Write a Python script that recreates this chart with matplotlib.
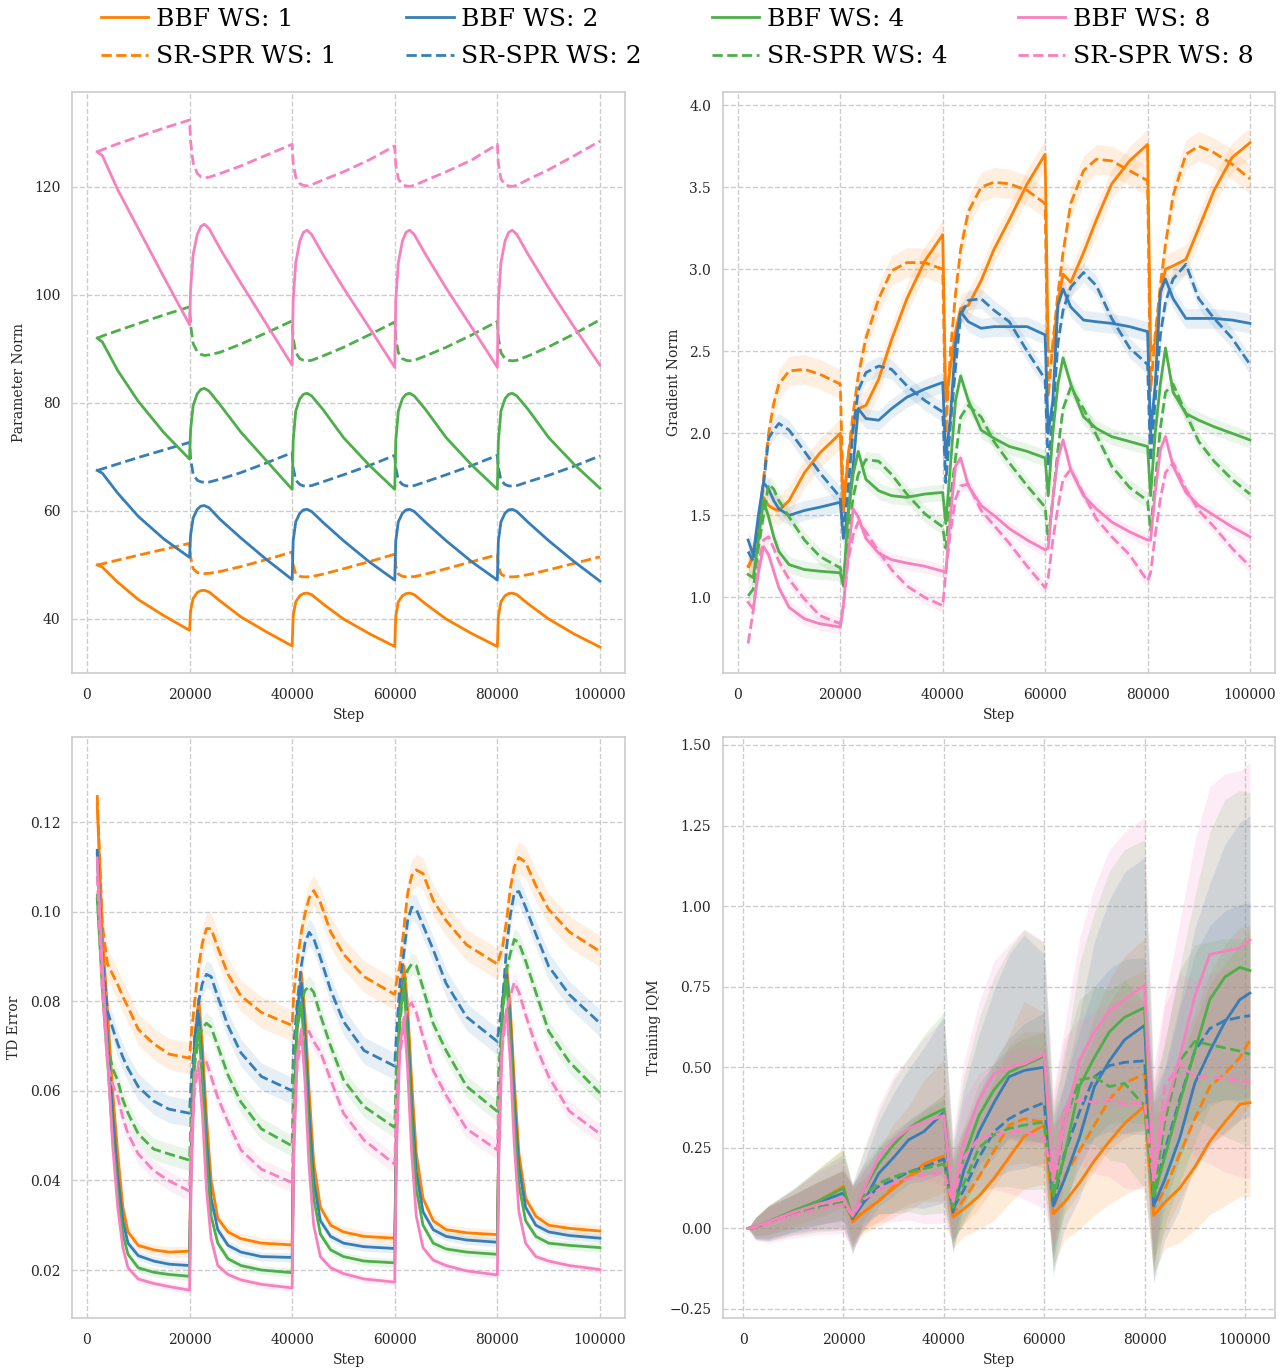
import matplotlib
matplotlib.use("Agg")
import numpy as np
import matplotlib.pyplot as plt

plt.rcParams['font.family'] = 'DejaVu Serif'
plt.rcParams['axes.edgecolor'] = '#cccccc'
plt.rcParams['axes.linewidth'] = 1.2
plt.rcParams['xtick.major.size'] = 0
plt.rcParams['ytick.major.size'] = 0
plt.rcParams['xtick.major.pad'] = 10.5
plt.rcParams['ytick.major.pad'] = 8.5
plt.rcParams['xtick.color'] = '#262626'
plt.rcParams['ytick.color'] = '#262626'
plt.rcParams['axes.labelcolor'] = '#262626'

ws_sizes = [1, 2, 4, 8]
colors = ['#ff7f00', '#377eb8', '#4daf4a', '#f781bf']

# ---------------- Parameter Norm ----------------
pn_steps = [2000, 3000, 6000, 10000, 15000, 20000,
            20200, 20700, 21500, 22200, 22900, 23800, 26000, 30000, 35000, 40000,
            40200, 40700, 41500, 42200, 42900, 43800, 46000, 50000, 55000, 60000,
            60200, 60700, 61500, 62200, 62900, 63800, 66000, 70000, 75000, 80000,
            80200, 80700, 81500, 82200, 82900, 83800, 86000, 90000, 95000, 100000]
pn_bbf1 = [50.0, 49.6, 46.8, 43.6, 40.6, 37.9,
           41.5, 43.8, 44.9, 45.25, 45.3, 45.0, 43.3, 40.4, 37.6, 35.0,
           40.5, 43.2, 44.3, 44.7, 44.8, 44.5, 42.8, 40.0, 37.3, 34.9,
           40.5, 43.2, 44.3, 44.7, 44.8, 44.5, 42.8, 40.0, 37.3, 34.9,
           40.5, 43.2, 44.3, 44.7, 44.8, 44.5, 42.8, 40.0, 37.2, 34.8]
pn_spr1 = [50.0, 50.2, 50.9, 51.8, 52.9, 54.0,
           51.5, 49.3, 48.6, 48.45, 48.4, 48.45, 48.8, 49.7, 51.0, 52.4,
           50.0, 48.3, 47.9, 47.8, 47.8, 47.85, 48.3, 49.3, 50.6, 52.0,
           49.8, 48.3, 47.9, 47.8, 47.8, 47.85, 48.3, 49.3, 50.6, 51.9,
           49.8, 48.3, 47.9, 47.8, 47.8, 47.85, 48.2, 49.1, 50.3, 51.5]
pn_bbf2 = [67.5, 67.0, 63.3, 59.0, 54.8, 51.4,
           55.5, 58.7, 60.3, 60.9, 61.0, 60.6, 58.4, 55.0, 51.0, 47.3,
           54.5, 58.0, 59.6, 60.2, 60.3, 59.9, 57.9, 54.5, 50.6, 47.2,
           54.5, 58.0, 59.6, 60.2, 60.3, 59.9, 57.9, 54.5, 50.6, 47.2,
           54.5, 58.0, 59.6, 60.2, 60.3, 59.9, 57.9, 54.5, 50.6, 47.0]
pn_spr2 = [67.5, 67.8, 68.7, 69.9, 71.3, 72.7,
           69.7, 66.8, 65.7, 65.4, 65.3, 65.35, 65.9, 67.1, 68.9, 70.8,
           68.0, 65.7, 64.9, 64.65, 64.6, 64.7, 65.4, 66.7, 68.4, 70.3,
           68.0, 65.7, 64.9, 64.65, 64.6, 64.7, 65.4, 66.7, 68.4, 70.3,
           68.0, 65.7, 64.9, 64.65, 64.6, 64.7, 65.4, 66.6, 68.3, 70.2]
pn_bbf4 = [92.0, 91.3, 86.0, 80.3, 74.5, 69.6,
           75.0, 79.5, 81.7, 82.5, 82.7, 82.2, 79.6, 74.6, 69.3, 64.0,
           73.0, 78.5, 80.8, 81.6, 81.8, 81.3, 78.8, 73.6, 68.5, 64.0,
           73.0, 78.5, 80.8, 81.6, 81.8, 81.3, 78.8, 73.6, 68.5, 64.0,
           73.0, 78.5, 80.8, 81.6, 81.8, 81.3, 78.8, 73.6, 68.6, 64.2]
pn_spr4 = [92.0, 92.4, 93.4, 94.7, 96.3, 97.8,
           94.5, 91.0, 89.5, 89.0, 88.8, 88.9, 89.4, 90.9, 93.0, 95.2,
           92.0, 89.3, 88.2, 87.9, 87.8, 87.9, 88.7, 90.3, 92.6, 95.0,
           92.0, 89.3, 88.2, 87.9, 87.8, 87.9, 88.7, 90.3, 92.6, 95.1,
           92.0, 89.3, 88.2, 87.9, 87.8, 87.9, 88.7, 90.4, 92.8, 95.4]
pn_bbf8 = [126.5, 125.8, 119.5, 112.3, 103.3, 94.5,
           101.0, 107.5, 111.2, 112.7, 113.1, 112.3, 108.5, 102.2, 94.6, 87.0,
           99.0, 106.0, 110.0, 111.6, 112.0, 111.2, 107.5, 101.3, 94.0, 86.6,
           99.0, 106.0, 110.0, 111.6, 112.0, 111.2, 107.5, 101.3, 94.0, 86.6,
           99.0, 106.0, 110.0, 111.6, 112.0, 111.2, 107.5, 101.3, 94.0, 87.0]
pn_spr8 = [126.5, 126.9, 128.0, 129.3, 130.9, 132.4,
           128.5, 124.5, 122.5, 121.9, 121.7, 121.8, 122.5, 123.9, 125.9, 127.9,
           124.5, 121.8, 120.6, 120.3, 120.2, 120.4, 121.3, 122.8, 125.0, 127.6,
           124.0, 121.5, 120.4, 120.2, 120.1, 120.3, 121.2, 122.8, 125.0, 127.9,
           124.3, 121.5, 120.4, 120.2, 120.1, 120.3, 121.4, 123.2, 125.8, 128.5]

# ---------------- Gradient Norm ----------------
gn_steps = [2000, 3000, 4000, 5000, 6000, 7000, 8000, 10000, 13000, 16000, 20000,
            20600, 21500, 22500, 23500, 25000, 27500, 30000, 33000, 36500, 40000,
            40600, 41500, 42500, 43500, 45000, 47500, 50000, 53000, 56500, 60000,
            60600, 61500, 62500, 63500, 65000, 67500, 70000, 73000, 76500, 80000,
            80600, 81500, 82500, 83500, 85000, 87500, 90000, 93000, 96500, 100000]
gn_bbf1 = [1.19, 1.25, 1.45, 1.61, 1.56, 1.54, 1.53, 1.59, 1.76, 1.88, 2.00,
           1.52, 1.85, 2.05, 2.15, 2.17, 2.33, 2.57, 2.82, 3.05, 3.21,
           2.20, 2.40, 2.62, 2.76, 2.78, 2.93, 3.12, 3.30, 3.52, 3.70,
           2.50, 2.50, 2.80, 2.97, 2.92, 3.10, 3.30, 3.52, 3.66, 3.76,
           2.50, 2.55, 2.85, 3.00, 3.02, 3.06, 3.25, 3.48, 3.68, 3.77]
gn_spr1 = [1.18, 1.25, 1.45, 1.72, 2.00, 2.18, 2.30, 2.38, 2.39, 2.36, 2.30,
           1.57, 1.85, 2.12, 2.35, 2.58, 2.82, 2.99, 3.04, 3.04, 3.00,
           2.00, 2.50, 2.85, 3.12, 3.35, 3.50, 3.53, 3.52, 3.48, 3.40,
           2.22, 2.55, 2.85, 3.10, 3.40, 3.60, 3.67, 3.66, 3.60, 3.54,
           2.26, 2.60, 2.90, 3.15, 3.45, 3.70, 3.75, 3.71, 3.64, 3.55]
gn_bbf2 = [1.35, 1.26, 1.50, 1.70, 1.66, 1.59, 1.54, 1.50, 1.53, 1.55, 1.58,
           1.36, 1.50, 1.80, 2.15, 2.09, 2.08, 2.15, 2.22, 2.27, 2.31,
           1.85, 2.10, 2.55, 2.74, 2.68, 2.64, 2.65, 2.65, 2.65, 2.60,
           2.00, 2.20, 2.78, 2.88, 2.77, 2.69, 2.68, 2.67, 2.65, 2.62,
           2.00, 2.30, 2.86, 2.94, 2.82, 2.70, 2.70, 2.70, 2.69, 2.67]
gn_spr2 = [1.28, 1.22, 1.45, 1.69, 1.97, 2.02, 2.06, 2.02, 1.89, 1.76, 1.61,
           1.40, 1.65, 2.02, 2.26, 2.37, 2.41, 2.39, 2.29, 2.20, 2.13,
           1.70, 2.05, 2.40, 2.72, 2.81, 2.82, 2.75, 2.68, 2.50, 2.33,
           1.80, 2.10, 2.55, 2.75, 2.89, 2.98, 2.90, 2.70, 2.52, 2.42,
           1.83, 2.20, 2.60, 2.80, 2.94, 3.03, 2.82, 2.70, 2.58, 2.42]
gn_bbf4 = [1.14, 1.12, 1.35, 1.59, 1.49, 1.37, 1.28, 1.20, 1.17, 1.16, 1.15,
           1.07, 1.50, 1.75, 1.89, 1.72, 1.65, 1.62, 1.61, 1.63, 1.64,
           1.45, 1.80, 2.20, 2.35, 2.20, 2.02, 1.97, 1.92, 1.89, 1.85,
           1.62, 2.00, 2.30, 2.46, 2.30, 2.10, 2.03, 1.98, 1.95, 1.92,
           1.62, 2.00, 2.30, 2.52, 2.25, 2.12, 2.08, 2.04, 2.00, 1.96]
gn_spr4 = [1.01, 1.05, 1.30, 1.50, 1.69, 1.66, 1.59, 1.49, 1.35, 1.25, 1.18,
           1.11, 1.35, 1.61, 1.75, 1.84, 1.83, 1.75, 1.63, 1.51, 1.43,
           1.30, 1.60, 1.85, 2.10, 2.17, 2.10, 1.95, 1.82, 1.68, 1.55,
           1.35, 1.60, 1.90, 2.15, 2.28, 2.15, 1.99, 1.80, 1.67, 1.59,
           1.41, 1.70, 2.03, 2.25, 2.30, 2.12, 1.95, 1.83, 1.72, 1.63]
gn_bbf8 = [0.97, 0.93, 1.15, 1.31, 1.26, 1.16, 1.06, 0.94, 0.87, 0.84, 0.82,
           0.95, 1.25, 1.54, 1.49, 1.36, 1.27, 1.23, 1.21, 1.19, 1.16,
           1.15, 1.50, 1.80, 1.85, 1.68, 1.56, 1.50, 1.42, 1.35, 1.29,
           1.30, 1.60, 1.85, 1.96, 1.78, 1.62, 1.54, 1.46, 1.40, 1.35,
           1.35, 1.64, 1.90, 1.98, 1.80, 1.64, 1.56, 1.50, 1.43, 1.37]
gn_spr8 = [0.72, 0.92, 1.20, 1.35, 1.37, 1.30, 1.22, 1.11, 0.99, 0.89, 0.84,
           0.95, 1.22, 1.38, 1.46, 1.40, 1.28, 1.17, 1.07, 1.00, 0.95,
           1.15, 1.40, 1.60, 1.68, 1.69, 1.53, 1.44, 1.33, 1.19, 1.06,
           1.12, 1.35, 1.55, 1.72, 1.78, 1.63, 1.48, 1.37, 1.26, 1.10,
           1.15, 1.38, 1.60, 1.76, 1.82, 1.66, 1.53, 1.43, 1.30, 1.19]
gn_band = [0.09, 0.06, 0.05, 0.04]

# ---------------- TD Error ----------------
td_steps = [2000, 3000, 4000, 5000, 6000, 7000, 8000, 10000, 13000, 16000, 20000,
            20300, 21000, 21800, 22500, 23300, 24200, 25500, 27500, 30000, 34000, 40000,
            40300, 41000, 41800, 42500, 43300, 44200, 45500, 47500, 50000, 54000, 60000,
            60300, 61000, 61800, 62500, 63300, 64200, 65500, 67500, 70000, 74000, 80000,
            80300, 81000, 81800, 82500, 83300, 84200, 85500, 87500, 90000, 94000, 100000]
td_bbf1 = [0.124, 0.095, 0.078, 0.060, 0.046, 0.034, 0.0285, 0.0255, 0.0245, 0.0240, 0.0242,
           0.045, 0.072, 0.0806, 0.070, 0.054, 0.040, 0.0315, 0.0285, 0.0270, 0.0260, 0.0256,
           0.050, 0.078, 0.0862, 0.077, 0.060, 0.044, 0.034, 0.0300, 0.0285, 0.0275, 0.0271,
           0.050, 0.080, 0.0879, 0.079, 0.062, 0.046, 0.036, 0.0310, 0.0290, 0.0283, 0.0279,
           0.050, 0.080, 0.0879, 0.079, 0.062, 0.046, 0.036, 0.0320, 0.0300, 0.0293, 0.0287]
td_spr1 = [0.126, 0.097, 0.0883, 0.0860, 0.0837, 0.0810, 0.0787, 0.0737, 0.0705, 0.0682, 0.0673,
           0.072, 0.080, 0.088, 0.093, 0.0962, 0.0962, 0.092, 0.086, 0.0812, 0.0775, 0.0746,
           0.0815, 0.089, 0.0955, 0.0995, 0.103, 0.1047, 0.102, 0.0955, 0.0905, 0.0855, 0.0815,
           0.084, 0.088, 0.0965, 0.104, 0.108, 0.1093, 0.1085, 0.1025, 0.098, 0.0926, 0.0883,
           0.0895, 0.092, 0.098, 0.105, 0.110, 0.1121, 0.111, 0.1058, 0.1005, 0.0955, 0.0911]
td_bbf2 = [0.113, 0.088, 0.072, 0.055, 0.041, 0.031, 0.026, 0.0232, 0.0220, 0.0213, 0.0210,
           0.045, 0.072, 0.077, 0.066, 0.049, 0.036, 0.029, 0.0255, 0.0240, 0.0230, 0.0228,
           0.050, 0.078, 0.084, 0.073, 0.055, 0.040, 0.031, 0.0275, 0.0260, 0.0252, 0.0248,
           0.050, 0.079, 0.085, 0.075, 0.057, 0.042, 0.033, 0.0290, 0.0275, 0.0267, 0.0262,
           0.050, 0.080, 0.086, 0.076, 0.058, 0.043, 0.034, 0.0300, 0.0285, 0.0277, 0.0271]
td_spr2 = [0.114, 0.090, 0.0778, 0.0740, 0.0705, 0.0675, 0.0650, 0.0609, 0.0577, 0.0559, 0.0550,
           0.062, 0.071, 0.080, 0.084, 0.086, 0.0855, 0.081, 0.0745, 0.0685, 0.0632, 0.0600,
           0.070, 0.080, 0.088, 0.093, 0.0954, 0.094, 0.0897, 0.0825, 0.0755, 0.0690, 0.0655,
           0.072, 0.084, 0.091, 0.0979, 0.101, 0.1005, 0.097, 0.0915, 0.0840, 0.0765, 0.0710,
           0.074, 0.080, 0.092, 0.099, 0.1042, 0.1045, 0.101, 0.0950, 0.0878, 0.0815, 0.0751]
td_bbf4 = [0.103, 0.083, 0.067, 0.050, 0.037, 0.028, 0.0235, 0.0205, 0.0195, 0.0190, 0.0186,
           0.043, 0.068, 0.0742, 0.062, 0.045, 0.032, 0.026, 0.0225, 0.0210, 0.0200, 0.0194,
           0.048, 0.074, 0.0793, 0.068, 0.050, 0.036, 0.028, 0.0245, 0.0230, 0.0220, 0.0216,
           0.048, 0.077, 0.0833, 0.072, 0.053, 0.038, 0.030, 0.0260, 0.0247, 0.0240, 0.0235,
           0.050, 0.078, 0.0847, 0.073, 0.054, 0.039, 0.031, 0.0275, 0.0260, 0.0255, 0.0250]
td_spr4 = [0.104, 0.085, 0.070, 0.065, 0.0623, 0.058, 0.055, 0.0504, 0.0470, 0.0459, 0.0445,
           0.055, 0.066, 0.072, 0.074, 0.0751, 0.0742, 0.070, 0.0635, 0.0575, 0.0515, 0.0477,
           0.065, 0.0769, 0.080, 0.0824, 0.0833, 0.082, 0.0769, 0.070, 0.0625, 0.0565, 0.0518,
           0.065, 0.075, 0.084, 0.0869, 0.0883, 0.0879, 0.083, 0.075, 0.069, 0.061, 0.0554,
           0.065, 0.078, 0.087, 0.0905, 0.0938, 0.093, 0.089, 0.082, 0.0733, 0.0665, 0.0595]
td_bbf8 = [0.112, 0.088, 0.068, 0.048, 0.034, 0.025, 0.0205, 0.0180, 0.0170, 0.0163, 0.0155,
           0.040, 0.064, 0.065, 0.055, 0.038, 0.027, 0.021, 0.0190, 0.0178, 0.0168, 0.0160,
           0.045, 0.068, 0.0738, 0.062, 0.043, 0.030, 0.023, 0.0205, 0.0192, 0.0180, 0.0173,
           0.045, 0.070, 0.0764, 0.065, 0.046, 0.032, 0.025, 0.0222, 0.0210, 0.0198, 0.0189,
           0.046, 0.072, 0.0783, 0.067, 0.048, 0.033, 0.026, 0.0230, 0.0220, 0.0210, 0.0201]
td_spr8 = [0.108, 0.082, 0.066, 0.0615, 0.0586, 0.054, 0.0504, 0.0459, 0.0422, 0.0399, 0.0376,
           0.050, 0.060, 0.0665, 0.0669, 0.0664, 0.0632, 0.0585, 0.053, 0.0468, 0.0425, 0.0395,
           0.055, 0.066, 0.071, 0.0728, 0.0733, 0.071, 0.0687, 0.0625, 0.055, 0.049, 0.0436,
           0.058, 0.068, 0.075, 0.0787, 0.0796, 0.0775, 0.072, 0.0645, 0.059, 0.0515, 0.0468,
           0.060, 0.070, 0.078, 0.081, 0.0842, 0.082, 0.077, 0.070, 0.0632, 0.0555, 0.0504]
td_band_bbf = [0.0012, 0.0010, 0.0010, 0.0008]
td_band_spr = [0.0035, 0.0030, 0.0024, 0.0022]

# ---------------- Training IQM ----------------
iq_steps = [1000, 2500, 5000, 10000, 15000, 20000, 21800,
            24000, 27000, 30000, 33000, 36000, 40000, 41800,
            44000, 47000, 50000, 53000, 56000, 60000, 61800,
            64000, 67000, 70000, 73000, 76000, 80000, 81800,
            84000, 87000, 90000, 93000, 96000, 99000, 101000]
iq_bbf1 = [0.0, 0.003, 0.02, 0.05, 0.085, 0.13, 0.02,
           0.05, 0.085, 0.125, 0.16, 0.20, 0.225, 0.035,
           0.06, 0.10, 0.155, 0.22, 0.285, 0.32, 0.045,
           0.08, 0.14, 0.21, 0.27, 0.325, 0.38, 0.04,
           0.08, 0.125, 0.19, 0.27, 0.33, 0.385, 0.39]
iq_spr1 = [0.0, 0.003, 0.018, 0.045, 0.065, 0.08, 0.03,
           0.05, 0.085, 0.13, 0.16, 0.185, 0.215, 0.045,
           0.09, 0.16, 0.24, 0.32, 0.34, 0.33, 0.06,
           0.16, 0.24, 0.32, 0.40, 0.45, 0.48, 0.06,
           0.12, 0.23, 0.34, 0.44, 0.48, 0.53, 0.585]
iq_bbf2 = [0.0, 0.003, 0.02, 0.05, 0.08, 0.11, 0.03,
           0.08, 0.17, 0.22, 0.275, 0.30, 0.36, 0.05,
           0.18, 0.30, 0.39, 0.47, 0.49, 0.50, 0.07,
           0.15, 0.28, 0.44, 0.52, 0.585, 0.63, 0.07,
           0.15, 0.28, 0.45, 0.55, 0.64, 0.71, 0.73]
iq_spr2 = [0.0, 0.003, 0.018, 0.045, 0.065, 0.08, 0.035,
           0.08, 0.13, 0.15, 0.175, 0.19, 0.215, 0.06,
           0.12, 0.22, 0.30, 0.34, 0.365, 0.39, 0.07,
           0.23, 0.36, 0.47, 0.505, 0.515, 0.52, 0.09,
           0.24, 0.40, 0.55, 0.62, 0.645, 0.655, 0.66]
iq_bbf4 = [0.0, 0.005, 0.02, 0.055, 0.085, 0.125, 0.035,
           0.12, 0.20, 0.26, 0.31, 0.34, 0.37, 0.07,
           0.22, 0.35, 0.43, 0.485, 0.506, 0.535, 0.10,
           0.22, 0.44, 0.53, 0.61, 0.655, 0.685, 0.10,
           0.22, 0.39, 0.55, 0.71, 0.78, 0.81, 0.80]
iq_spr4 = [0.0, 0.003, 0.018, 0.045, 0.065, 0.08, 0.035,
           0.10, 0.14, 0.16, 0.175, 0.185, 0.20, 0.065,
           0.14, 0.25, 0.29, 0.31, 0.32, 0.33, 0.10,
           0.33, 0.46, 0.47, 0.44, 0.45, 0.38, 0.10,
           0.33, 0.52, 0.58, 0.57, 0.56, 0.55, 0.54]
iq_bbf8 = [0.0, 0.005, 0.02, 0.05, 0.075, 0.095, 0.04,
           0.12, 0.22, 0.275, 0.31, 0.33, 0.35, 0.09,
           0.27, 0.40, 0.48, 0.50, 0.51, 0.54, 0.15,
           0.32, 0.52, 0.61, 0.675, 0.71, 0.755, 0.15,
           0.36, 0.53, 0.72, 0.85, 0.86, 0.87, 0.895]
iq_spr8 = [0.0, 0.003, 0.015, 0.04, 0.06, 0.075, 0.04,
           0.09, 0.12, 0.14, 0.155, 0.165, 0.175, 0.08,
           0.22, 0.28, 0.29, 0.30, 0.30, 0.28, 0.15,
           0.37, 0.40, 0.39, 0.40, 0.385, 0.39, 0.15,
           0.44, 0.51, 0.47, 0.47, 0.465, 0.46, 0.455]
iq_bbf_up = [0.0, 0.03, 0.05, 0.07, 0.10, 0.12, 0.10,
             0.12, 0.16, 0.20, 0.22, 0.26, 0.30, 0.20,
             0.25, 0.30, 0.35, 0.38, 0.42, 0.35, 0.28,
             0.30, 0.38, 0.45, 0.50, 0.52, 0.52, 0.35,
             0.35, 0.42, 0.48, 0.52, 0.55, 0.55, 0.55]
iq_bbf_dn = [0.0, 0.04, 0.06, 0.07, 0.08, 0.10, 0.12,
             0.10, 0.12, 0.14, 0.16, 0.18, 0.22, 0.15,
             0.13, 0.16, 0.20, 0.22, 0.25, 0.28, 0.25,
             0.18, 0.22, 0.26, 0.30, 0.34, 0.38, 0.28,
             0.22, 0.26, 0.30, 0.35, 0.40, 0.44, 0.45]
iq_spr_up = [0.0, 0.03, 0.05, 0.06, 0.08, 0.10, 0.10,
             0.10, 0.12, 0.14, 0.16, 0.18, 0.20, 0.15,
             0.18, 0.20, 0.22, 0.25, 0.27, 0.28, 0.25,
             0.22, 0.25, 0.28, 0.30, 0.32, 0.32, 0.30,
             0.25, 0.28, 0.30, 0.32, 0.34, 0.35, 0.35]
iq_spr_dn = [0.0, 0.04, 0.06, 0.07, 0.08, 0.09, 0.10,
             0.09, 0.10, 0.12, 0.13, 0.15, 0.16, 0.12,
             0.12, 0.15, 0.17, 0.19, 0.21, 0.22, 0.20,
             0.18, 0.20, 0.22, 0.24, 0.26, 0.27, 0.24,
             0.20, 0.22, 0.25, 0.27, 0.29, 0.30, 0.30]
iq_dn_scale = [0.65, 0.85, 0.95, 1.0]

pn_bbf = [pn_bbf1, pn_bbf2, pn_bbf4, pn_bbf8]
pn_spr = [pn_spr1, pn_spr2, pn_spr4, pn_spr8]
gn_bbf = [gn_bbf1, gn_bbf2, gn_bbf4, gn_bbf8]
gn_spr = [gn_spr1, gn_spr2, gn_spr4, gn_spr8]
td_bbf = [td_bbf1, td_bbf2, td_bbf4, td_bbf8]
td_spr = [td_spr1, td_spr2, td_spr4, td_spr8]
iq_bbf = [iq_bbf1, iq_bbf2, iq_bbf4, iq_bbf8]
iq_spr = [iq_spr1, iq_spr2, iq_spr4, iq_spr8]


fig = plt.figure(figsize=(12.87, 13.72), dpi=100)
ax_pn = fig.add_axes([0.056, 0.5095, 0.4297, 0.4235])
ax_gn = fig.add_axes([0.5618, 0.5095, 0.4289, 0.4235])
ax_td = fig.add_axes([0.056, 0.0394, 0.4297, 0.4235])
ax_iq = fig.add_axes([0.5618, 0.0394, 0.4289, 0.4235])

LW = 2.0
handles = []
labels = []
for i in range(4):
    c = colors[i]
    x = np.array(pn_steps)
    h1, = ax_pn.plot(x, pn_bbf[i], color=c, lw=LW, ls='-')
    h2, = ax_pn.plot(x, pn_spr[i], color=c, lw=LW, ls='--')
    handles += [h1, h2]
    labels += ['BBF WS: %d' % ws_sizes[i], 'SR-SPR WS: %d' % ws_sizes[i]]

    x = np.array(gn_steps)
    for y, ls in [(np.array(gn_bbf[i]), '-'), (np.array(gn_spr[i]), '--')]:
        ax_gn.fill_between(x, y - gn_band[i], y + gn_band[i], color=c, alpha=0.12, lw=0)
        ax_gn.plot(x, y, color=c, lw=LW, ls=ls)

    x = np.array(td_steps)
    for y, ls, b in [(np.array(td_bbf[i]), '-', td_band_bbf[i]),
                     (np.array(td_spr[i]), '--', td_band_spr[i])]:
        ax_td.fill_between(x, y - b, y + b, color=c, alpha=0.12, lw=0)
        ax_td.plot(x, y, color=c, lw=LW, ls=ls)

    x = np.array(iq_steps)
    for y, ls, up, dn in [(np.array(iq_bbf[i]), '-', iq_bbf_up, iq_bbf_dn),
                          (np.array(iq_spr[i]), '--', iq_spr_up, iq_spr_dn)]:
        lo = y - np.array(dn) * iq_dn_scale[i]
        ax_iq.fill_between(x, lo, y + np.array(up), color=c, alpha=0.15, lw=0)
        ax_iq.plot(x, y, color=c, lw=LW, ls=ls)

xt = [0, 20000, 40000, 60000, 80000, 100000]
for ax, yl in [(ax_pn, 'Parameter Norm'), (ax_gn, 'Gradient Norm'),
               (ax_td, 'TD Error'), (ax_iq, 'Training IQM')]:
    ax.set_xticks(xt)
    ax.grid(True, ls='--', color='#cccccc', lw=1.0)
    ax.set_axisbelow(True)
    ax.set_xlabel('Step', fontsize=10, labelpad=5)
    ax.set_ylabel(yl, fontsize=10, labelpad=6)
    ax.tick_params(labelsize=10)

ax_pn.set_xlim(-2900, 104900)
ax_gn.set_xlim(-2900, 104900)
ax_td.set_xlim(-2900, 104900)
ax_iq.set_xlim(-4000, 106000)

ax_pn.set_ylim(30.0, 137.6)
ax_pn.set_yticks([40, 60, 80, 100, 120])
ax_gn.set_ylim(0.54, 4.08)
ax_gn.set_yticks([1.0, 1.5, 2.0, 2.5, 3.0, 3.5, 4.0])
ax_td.set_ylim(0.0093, 0.139)
ax_td.set_yticks([0.02, 0.04, 0.06, 0.08, 0.10, 0.12])
ax_iq.set_ylim(-0.278, 1.525)
ax_iq.set_yticks([-0.25, 0.0, 0.25, 0.5, 0.75, 1.0, 1.25, 1.5])

fig.legend(handles, labels, ncol=4, loc='upper center', bbox_to_anchor=(0.526, 1.0105),
           frameon=False, fontsize=18, handlelength=1.9, handletextpad=0.3,
           columnspacing=2.8, labelspacing=0.57)

fig.savefig('out.png', dpi=100)
